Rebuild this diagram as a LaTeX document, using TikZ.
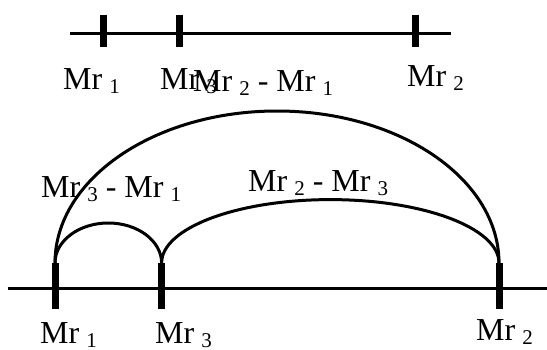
\documentclass[tikz,border=0pt]{standalone}
\usepackage{fontspec}
\setmainfont{Liberation Serif}
\newcommand\mrlab[1]{Mr\hspace{0.22em}\raisebox{-4pt}{\fontsize{21}{21}\selectfont #1}}
\begin{document}
\begin{tikzpicture}[x=1pt,y=1pt,
  axis/.style={line width=3pt},
  tick/.style={line width=7pt},
  arcline/.style={line width=3pt},
  lab/.style={anchor=base west,inner sep=0pt,font=\fontsize{32}{32}\selectfont}]
\useasboundingbox (0,0) rectangle (547,349);
% top scale
\coordinate (ta) at (70,315.5);
\coordinate (tb) at (451,315.5);
\draw[axis] (ta) -- (tb);
\coordinate (t1u) at (103,334.3); \coordinate (t1d) at (103,302);
\coordinate (t3u) at (179,334.3); \coordinate (t3d) at (179,302);
\coordinate (t2u) at (415,334.3); \coordinate (t2d) at (415,302);
\draw[tick] (t1u) -- (t1d);
\draw[tick] (t3u) -- (t3d);
\draw[tick] (t2u) -- (t2d);
\node[lab] (l1) at (63,259) {\mrlab{1}};
\node[lab] (l3) at (160,259) {\mrlab{3}};
\node[lab] (l21) at (193,258) {\mrlab{2} - \mrlab{1}};
\node[lab] (l2) at (407,262) {\mrlab{2}};
% bottom scale
\coordinate (ba) at (7.7,60.4);
\coordinate (bb) at (547,60.4);
\draw[axis] (ba) -- (bb);
\coordinate (b1u) at (55,86); \coordinate (b1d) at (55,40.5);
\coordinate (b3u) at (161.6,86); \coordinate (b3d) at (161.6,40.5);
\coordinate (b2u) at (499,86); \coordinate (b2d) at (499,40.5);
\draw[tick] (b1u) -- (b1d);
\draw[tick] (b3u) -- (b3d);
\draw[tick] (b2u) -- (b2d);
% arcs
\draw[arcline] (b1u) arc[start angle=180,end angle=0,x radius=222,y radius=152];
\draw[arcline] (b1u) arc[start angle=180,end angle=0,x radius=53.3,y radius=40];
\draw[arcline] (b3u) arc[start angle=180,end angle=0,x radius=168.7,y radius=63.4];
\node[lab] (m31) at (41,152) {\mrlab{3} - \mrlab{1}};
\node[lab] (m23) at (248,158) {\mrlab{2} - \mrlab{3}};
\node[lab] (bl1) at (40,6) {\mrlab{1}};
\node[lab] (bl3) at (155,6) {\mrlab{3}};
\node[lab] (bl2) at (476,9) {\mrlab{2}};
\end{tikzpicture}
\end{document}
